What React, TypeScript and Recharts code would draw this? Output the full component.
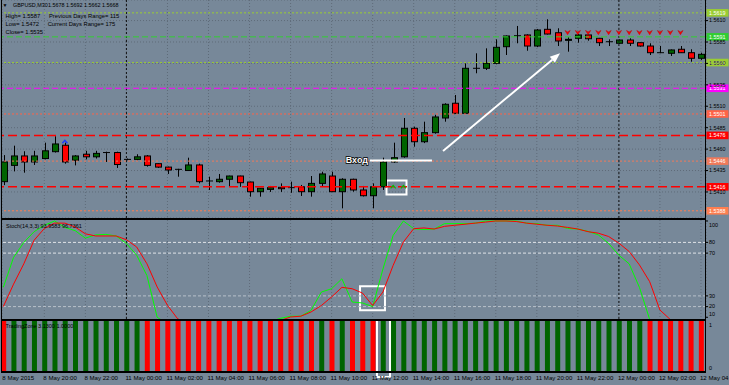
import {
  Bar,
  CartesianGrid,
  Cell,
  ComposedChart,
  Line,
  ReferenceArea,
  ReferenceLine,
  Scatter,
  XAxis,
  YAxis,
} from "recharts";

const FONT = '"Liberation Sans", Arial, sans-serif';
const BG = "#778899";
const GRID = "#5f6b79";
const BULL = "#006400";
const BEAR = "#ff0000";
const W = 729;
const AXIS_W = 23;
const X_DOMAIN: [number, number] = [-0.127, 68.49];

// GBPUSD M30, 8 May 18:00 .. 12 May 04:00
const OPEN = [
  1.5422, 1.5441, 1.5452, 1.5445, 1.5449, 1.5457, 1.54645, 1.5447, 1.5454, 1.5451,
  1.5456, 1.5456, 1.5448, 1.5448, 1.5452, 1.5443, 1.5439, 1.54364, 1.5435, 1.54415,
  1.54228, 1.5422, 1.54248, 1.54286, 1.54216, 1.54103, 1.5413, 1.54154, 1.5415, 1.5416,
  1.54103, 1.542, 1.54286, 1.54103, 1.54248, 1.54123, 1.54056, 1.5416, 1.5445, 1.5451,
  1.54843, 1.54686, 1.54792, 1.54963, 1.55135, 1.55018, 1.55543, 1.55543, 1.55601, 1.55795,
  1.55923, 1.55932, 1.55803, 1.55998, 1.55958, 1.55873, 1.55893, 1.55932, 1.55893, 1.55853,
  1.55835, 1.55873, 1.55842, 1.55803, 1.55725, 1.55718, 1.55765, 1.55725, 1.5566,
];
const HIGH = [
  1.5453, 1.5464, 1.54575, 1.5458, 1.54675, 1.5475, 1.54675, 1.5453, 1.5458, 1.5458,
  1.5457, 1.5457, 1.5449, 1.5454, 1.5453, 1.54435, 1.54395, 1.5437, 1.545, 1.5443,
  1.54278, 1.5431, 1.5429, 1.5429, 1.5422, 1.54146, 1.5417, 1.542, 1.5422, 1.54182,
  1.54286, 1.54336, 1.54336, 1.5426, 1.54255, 1.5417, 1.542, 1.545, 1.54675, 1.54963,
  1.54862, 1.5492, 1.55, 1.55135, 1.55231, 1.55601, 1.55718, 1.55776, 1.55881, 1.55926,
  1.56037, 1.5594, 1.56002, 1.56115, 1.5601, 1.55905, 1.55943, 1.55937, 1.55897, 1.55881,
  1.5588, 1.55893, 1.55847, 1.55835, 1.55803, 1.55763, 1.55803, 1.55765, 1.55725,
];
const LOW = [
  1.5418, 1.5434, 1.54325, 1.54415, 1.5448, 1.5456, 1.5443, 1.5441, 1.5448, 1.5449,
  1.5445, 1.5438, 1.5447, 1.5447, 1.54395, 1.5438, 1.5431, 1.54278, 1.54345, 1.542,
  1.54123, 1.54208, 1.5416, 1.5416, 1.54045, 1.54045, 1.541, 1.541, 1.5409, 1.54053,
  1.54045, 1.5416, 1.541, 1.53909, 1.54103, 1.54047, 1.53909, 1.54123, 1.5444, 1.545,
  1.54628, 1.5467, 1.5478, 1.5492, 1.5501, 1.5501, 1.55485, 1.55523, 1.5559, 1.55698,
  1.55835, 1.55748, 1.5579, 1.55937, 1.55803, 1.55737, 1.55842, 1.55865, 1.55803, 1.55803,
  1.5583, 1.55803, 1.55795, 1.55698, 1.5572, 1.55687, 1.55722, 1.5562, 1.5564,
];
const CLOSE = [
  1.5445, 1.5452, 1.5445, 1.5452, 1.5458, 1.5466, 1.5445, 1.5452, 1.5451, 1.5455,
  1.5456, 1.5442, 1.5448, 1.5451, 1.5441, 1.5439, 1.54356, 1.54364, 1.54415, 1.5422,
  1.54228, 1.54248, 1.54286, 1.54208, 1.54103, 1.54143, 1.5415, 1.54138, 1.5415, 1.54103,
  1.542, 1.5431, 1.54103, 1.54248, 1.54123, 1.54056, 1.5416, 1.5445, 1.545, 1.54843,
  1.54686, 1.54792, 1.54975, 1.55123, 1.55018, 1.55543, 1.55543, 1.55601, 1.55788, 1.5592,
  1.55923, 1.55803, 1.5599, 1.55943, 1.55862, 1.55881, 1.55932, 1.55888, 1.55842, 1.55853,
  1.55873, 1.55835, 1.55803, 1.55725, 1.55725, 1.55757, 1.55725, 1.5566, 1.55706,
];

const STOCH_MAIN = [
  38, 66, 80, 90, 96, 100, 94, 91, 84, 87,
  87.5, 86, 79, 68, 49, 10, 4, 2, 3, 1,
  2, 4, 3, 5, 2, 4, 6, 9, 11, 11,
  16.5, 33.6, 36.7, 46, 24.3, 23.4, 20, 55, 86.6, 100,
  92.8, 92, 92.5, 97.5, 97.5, 97.5, 98, 100, 100, 100,
  100, 98, 97.5, 96, 96, 93, 92.5, 90.3, 87, 79,
  68, 60, 38, 8, 3, 2, 4, 2, 5,
];
const STOCH_SIGNAL = [
  20, 41, 60, 82, 93, 98, 98, 94.4, 88, 86,
  86, 86, 82.5, 75.7, 60, 38.3, 21.2, 8.5, 5, 3,
  2, 3, 3, 4, 3, 4, 5, 7, 10.3, 11,
  15, 21, 29, 38, 36.7, 32.7, 21, 33.6, 58.6, 80.4,
  92.8, 93.5, 92.5, 95, 96, 97, 98, 99, 100, 100,
  99.5, 98, 97, 96, 95.3, 94, 92.5, 90, 88.6, 85.5,
  79.3, 71.5, 59, 43.3, 16.8, 8, 4, 3, 3,
];

// TradingZone: 1 = up (green), 0 = down (red)
const TZ_UP = [
  0, 1, 1, 1, 1, 1, 1, 1, 1, 1,
  1, 1, 1, 1, 0, 0, 0, 0, 0, 0,
  0, 0, 0, 0, 0, 0, 0, 0, 0, 0,
  0, 1, 0, 1, 0, 0, 0, 1, 1, 1,
  1, 1, 1, 1, 1, 1, 1, 1, 1, 1,
  1, 1, 1, 1, 1, 1, 1, 1, 1, 1,
  1, 1, 1, 0, 0, 0, 0, 0, 0,
];
const TZ_VALUE = 1;

const TIME_LABELS = [
  "8 May 2015", "8 May 20:00", "8 May 22:00", "11 May 00:00", "11 May 02:00",
  "11 May 04:00", "11 May 06:00", "11 May 08:00", "11 May 10:00", "11 May 12:00",
  "11 May 14:00", "11 May 16:00", "11 May 18:00", "11 May 20:00", "11 May 22:00",
  "12 May 00:00", "12 May 02:00", "12 May 04:00",
];
const LABEL_BARS = [0, 4, 8, 12, 16, 20, 24, 28, 32, 36, 40, 44, 48, 52, 56, 60, 64, 68];
const DAY_BREAKS = [12, 60];

const PRICE_TICKS = [1.541, 1.5435, 1.546, 1.5485, 1.551, 1.5535, 1.556, 1.5585, 1.561];
const LEVEL_PRICES = [1.5619, 1.5591, 1.5561, 1.5531, 1.5501, 1.5476, 1.5446, 1.5416, 1.5388];
const LEVEL_STYLES = [
  { color: "#9acd32", dash: "2 2", w: 1 },
  { color: "#32cd32", dash: "6 3", w: 1 },
  { color: "#9acd32", dash: "2 2", w: 1 },
  { color: "#ff00ff", dash: "6 3", w: 1 },
  { color: "#ff6347", dash: "2 2", w: 1 },
  { color: "#ff0000", dash: "9 4", w: 1.5 },
  { color: "#f07a5a", dash: "2 2", w: 1 },
  { color: "#ff0000", dash: "9 4", w: 1.5 },
  { color: "#ff7f50", dash: "2 2", w: 1 },
];

const SELL_BARS = [55, 56, 57, 58, 59, 60, 61, 62, 63, 64, 65, 66];
const SELL_LEVEL = 1.55961;
const BUY_BARS = [38, 39];
const BUY_LEVEL = 1.54158;
const BLUE_BARS = [6];
const BLUE_LEVEL = 1.54685;

const STOCH_LEVELS = [80, 70, 30, 20];
const STOCH_TICKS = [100, 80, 70, 30, 20, 10];

const rows = OPEN.map((o, i) => ({
  i,
  open: o,
  high: HIGH[i],
  low: LOW[i],
  close: CLOSE[i],
  range: [LOW[i], HIGH[i]],
  k: STOCH_MAIN[i],
  d: STOCH_SIGNAL[i],
  tz: TZ_VALUE,
  up: TZ_UP[i],
}));

const sellRows = SELL_BARS.map((i) => ({ i, v: SELL_LEVEL }));
const buyRows = BUY_BARS.map((i) => ({ i, v: BUY_LEVEL }));
const blueRows = BLUE_BARS.map((i) => ({ i, v: BLUE_LEVEL }));

function Candle(props: any) {
  const { x, y, width, height, payload } = props;
  if (payload == null) return null;
  const { open, close, high, low } = payload;
  const cx = Math.round(x + width / 2) + 0.5;
  const top = Math.min(y, y + height);
  const span = Math.abs(height);
  const k = span / Math.max(high - low, 1e-9);
  const yOf = (v: number) => top + (high - v) * k;
  const yO = yOf(open);
  const yC = yOf(close);
  const flat = Math.abs(close - open) < 0.00002;
  return (
    <g>
      <line x1={cx} x2={cx} y1={top} y2={top + span} stroke="#000" strokeWidth={1} />
      {flat ? (
        <line x1={cx - 3.5} x2={cx + 3.5} y1={yO} y2={yO} stroke="#000" strokeWidth={1} />
      ) : (
        <rect
          x={cx - 3}
          y={Math.min(yO, yC)}
          width={6}
          height={Math.max(1, Math.abs(yC - yO))}
          fill={close > open ? BULL : BEAR}
          stroke="#000"
          strokeWidth={1}
        />
      )}
    </g>
  );
}

function SellArrow(props: any) {
  const { cx, cy } = props;
  return (
    <path
      d={`M${cx - 2.6},${cy - 2} L${cx},${cy - 0.6} L${cx + 2.6},${cy - 2} L${cx},${cy + 2.2} Z`}
      fill="#ff0000"
      stroke="#c00000"
      strokeWidth={0.5}
    />
  );
}

function BuyMark(props: any) {
  const { cx, cy } = props;
  return (
    <path d={`M${cx - 2.5},${cy + 1.5} L${cx},${cy - 1.5} L${cx + 2.5},${cy + 1.5}`} fill="none" stroke="#00c000" strokeWidth={1.2} />
  );
}

function BlueMark(props: any) {
  const { cx, cy } = props;
  return (
    <path d={`M${cx - 2.5},${cy + 1.5} L${cx},${cy - 1.5} L${cx + 2.5},${cy + 1.5}`} fill="none" stroke="#1e3cff" strokeWidth={1.4} />
  );
}

function PriceTick(props: any) {
  const { x, y, payload } = props;
  return (
    <text x={x} y={y + 1.9} fontSize={5.4} fill="#000" fontFamily={FONT}>
      {Number(payload.value).toFixed(4)}
    </text>
  );
}

const clampTick = (lo: number, hi: number) => (props: any) => {
  const { x, y, payload } = props;
  const yy = Math.min(Math.max(y, lo), hi);
  return (
    <text x={x} y={yy + 1.9} fontSize={5.4} fill="#000" fontFamily={FONT}>
      {payload.value}
    </text>
  );
};

function TimeTick(props: any) {
  const { x, y, payload } = props;
  const k = LABEL_BARS.indexOf(payload.value);
  return (
    <text x={x - 1} y={y + 9} fontSize={6.1} fill="#000" fontFamily={FONT}>
      {TIME_LABELS[k]}
    </text>
  );
}

const levelLabel = (price: number, color: string) => (p: any) => {
  const vb = p.viewBox || {};
  const xr = (vb.x ?? 0) + (vb.width ?? 0);
  const yy = vb.y ?? 0;
  return (
    <g>
      <rect x={xr + 0.5} y={yy - 3.8} width={22} height={7.6} fill={color} />
      <text x={xr + 3} y={yy + 2} fontSize={5.4} fill="#fff" fontFamily={FONT}>
        {price.toFixed(4)}
      </text>
    </g>
  );
};

function TrendArrow(props: any) {
  const { x1, y1, x2, y2 } = props;
  if (x1 == null) return null;
  const a = Math.atan2(y2 - y1, x2 - x1);
  const L = 10;
  const H = 4;
  const bx = x2 - L * Math.cos(a);
  const by = y2 - L * Math.sin(a);
  const px = -Math.sin(a) * H;
  const py = Math.cos(a) * H;
  return (
    <g>
      <line x1={x1} y1={y1} x2={bx} y2={by} stroke="#fff" strokeWidth={2} />
      <path d={`M${x2},${y2} L${bx + px},${by + py} L${bx - px},${by - py} Z`} fill="#fff" />
    </g>
  );
}

function EntryLine(props: any) {
  const { x1, y1, x2, y2 } = props;
  if (x1 == null) return null;
  return (
    <g>
      <line x1={x1} y1={y1} x2={x2} y2={y2} stroke="#fff" strokeWidth={2} />
      <text
        x={x1 - 2}
        y={y1 + 3}
        textAnchor="end"
        fontSize={9}
        fontWeight="bold"
        fontFamily={FONT}
        fill="#fff"
        stroke="#000"
        strokeWidth={1.4}
        paintOrder="stroke"
      >
        Вход
      </text>
    </g>
  );
}

function MainPanel() {
  return (
    <ComposedChart width={W} height={218} data={rows} margin={{ top: 0, right: 0, bottom: 0, left: 2 }}>
      <XAxis type="number" dataKey="i" domain={X_DOMAIN} ticks={LABEL_BARS} allowDataOverflow hide />
      <YAxis
        orientation="right"
        width={AXIS_W}
        domain={[1.53796, 1.5634]}
        allowDataOverflow
        ticks={PRICE_TICKS}
        interval={0}
        axisLine={false}
        tickSize={2}
        tickMargin={1}
        tickLine={{ stroke: "#000" }}
        tick={PriceTick}
      />
      <CartesianGrid stroke={GRID} strokeDasharray="1 2" />
      {DAY_BREAKS.map((b) => (
        <ReferenceLine key={`d${b}`} x={b} stroke="#111" strokeDasharray="2 2" />
      ))}
      {LEVEL_PRICES.map((p, n) => (
        <ReferenceLine
          key={`l${n}`}
          y={p}
          stroke={LEVEL_STYLES[n].color}
          strokeDasharray={LEVEL_STYLES[n].dash}
          strokeWidth={LEVEL_STYLES[n].w}
          label={levelLabel(p, LEVEL_STYLES[n].color)}
        />
      ))}
      <Bar dataKey="range" shape={Candle} barSize={7} isAnimationActive={false} />
      <Scatter data={sellRows} dataKey="v" shape={SellArrow} isAnimationActive={false} />
      <Scatter data={buyRows} dataKey="v" shape={BuyMark} isAnimationActive={false} />
      <Scatter data={blueRows} dataKey="v" shape={BlueMark} isAnimationActive={false} />
      <ReferenceArea x1={37.35} x2={39.3} y1={1.540705} y2={1.542338} fill="none" stroke="#fff" strokeWidth={2} ifOverflow="visible" />
      <ReferenceLine
        segment={[{ x: 35.74, y: 1.544672 }, { x: 41.78, y: 1.544672 }]}
        shape={EntryLine}
        ifOverflow="visible"
      />
      <ReferenceLine
        segment={[{ x: 42.86, y: 1.545781 }, { x: 54.26, y: 1.557181 }]}
        shape={TrendArrow}
        ifOverflow="visible"
      />
    </ComposedChart>
  );
}

function StochPanel() {
  return (
    <ComposedChart width={W} height={99} data={rows} margin={{ top: 0, right: 0, bottom: 0, left: 2 }}>
      <XAxis type="number" dataKey="i" domain={X_DOMAIN} ticks={LABEL_BARS} allowDataOverflow hide />
      <YAxis
        orientation="right"
        width={AXIS_W}
        domain={[8.41, 100.93]}
        allowDataOverflow
        ticks={STOCH_TICKS}
        interval={0}
        axisLine={false}
        tickSize={2}
        tickMargin={1}
        tickLine={{ stroke: "#000" }}
        tick={clampTick(4.7, 94.3)}
      />
      <CartesianGrid stroke={GRID} strokeDasharray="1 2" horizontal={false} />
      {DAY_BREAKS.map((b) => (
        <ReferenceLine key={`d${b}`} x={b} stroke="#111" strokeDasharray="2 2" />
      ))}
      {STOCH_LEVELS.map((v) => (
        <ReferenceLine key={`s${v}`} y={v} stroke={v > 50 ? "#dfe3e8" : "#b9c1ca"} strokeDasharray="3 2" />
      ))}
      <Line dataKey="k" stroke="#00ff00" strokeWidth={1} dot={false} activeDot={false} isAnimationActive={false} />
      <Line dataKey="d" stroke="#ff0000" strokeWidth={1} dot={false} activeDot={false} isAnimationActive={false} />
      <ReferenceArea x1={34.77} x2={37.2} y1={16.54} y2={38.97} fill="none" stroke="#fff" strokeWidth={2} ifOverflow="visible" />
    </ComposedChart>
  );
}

function ZonePanel() {
  return (
    <ComposedChart width={W} height={65} data={rows} margin={{ top: 0, right: 0, bottom: 0, left: 2 }}>
      <XAxis
        type="number"
        dataKey="i"
        domain={X_DOMAIN}
        ticks={LABEL_BARS}
        interval={0}
        allowDataOverflow
        height={14}
        axisLine={false}
        tickLine={false}
        tickSize={0}
        tickMargin={0}
        tick={TimeTick}
      />
      <YAxis
        orientation="right"
        width={AXIS_W}
        domain={[0, 1]}
        allowDataOverflow
        ticks={[0, 1]}
        interval={0}
        axisLine={false}
        tickSize={2}
        tickMargin={1}
        tickLine={false}
        tick={clampTick(5.3, 47.7)}
      />
      <Bar dataKey="tz" barSize={5} isAnimationActive={false}>
        {rows.map((r) => (
          <Cell key={r.i} fill={r.up ? BULL : BEAR} />
        ))}
      </Bar>
      <ReferenceArea x1={36.42} x2={37.69} y1={-0.118} y2={1.02} fill="none" stroke="#fff" strokeWidth={2} ifOverflow="visible" />
    </ComposedChart>
  );
}

const line = (left: number, top: number, width: number, height: number) => (
  <div style={{ position: "absolute", left, top, width, height, background: "#000" }} />
);

export default function App() {
  return (
    <div style={{ position: "absolute", left: 0, top: 0, width: W, height: 385, background: BG, overflow: "hidden" }}>
      <div style={{ position: "absolute", left: 0, top: 0 }}>
        <MainPanel />
      </div>
      <div style={{ position: "absolute", left: 0, top: 220 }}>
        <StochPanel />
      </div>
      <div style={{ position: "absolute", left: 0, top: 320 }}>
        <ZonePanel />
      </div>
      {line(1, 0, 1, 372)}
      {line(705, 0, 1, 372)}
      {line(1, 218, 705, 2)}
      {line(1, 319, 705, 1.5)}
      {line(1, 371, 705, 1.5)}
      <svg width={W} height={385} style={{ position: "absolute", left: 0, top: 0, pointerEvents: "none" }} fontFamily={FONT}>
        <text x={2.5} y={7.3} fontSize={5}>▼</text>
        <text x={13} y={7.3} fontSize={5.4}>GBPUSD,M30</text>
        <text x={48} y={7.3} fontSize={5.4}>1.5678 1.5692 1.5662 1.5668</text>
        <text x={5.5} y={17.7} fontSize={5.8}>High= 1.5587</text>
        <text x={49} y={17.7} fontSize={5.8}>Previous Days Range= 115</text>
        <text x={5.5} y={26} fontSize={5.8}>Low= 1.5472</text>
        <text x={47.7} y={26} fontSize={5.8}>Current Days Range= 175</text>
        <text x={5.5} y={34.3} fontSize={5.8}>Close= 1.5535</text>
        <text x={6} y={228} fontSize={5.5}>Stoch(14,3,3) 93.9583 96.7361</text>
        <text x={5.6} y={328.3} fontSize={5.5}>TradingZone 3.1300 1.0000</text>
      </svg>
    </div>
  );
}
